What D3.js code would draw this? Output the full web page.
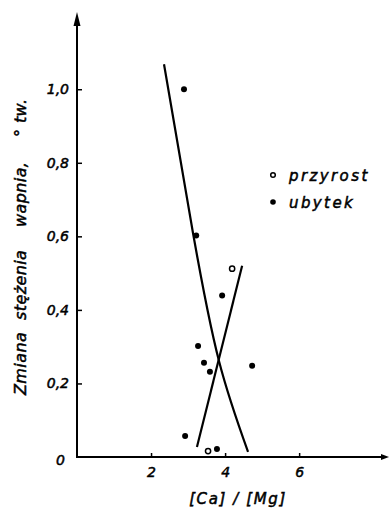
<!DOCTYPE html>
<html>
<head>
<meta charset="utf-8">
<script src="https://cdn.jsdelivr.net/npm/d3@7"></script>
<style>
  body { margin: 0; background: #fff; }
  svg { display: block; }
  text { font-family: "DejaVu Sans", sans-serif; font-style: italic; fill: #000; stroke: #000; stroke-width: 0.5px; }
</style>
</head>
<body>
<div id="chart"></div>
<script>
// data
var xGain = [4.19, 3.54];
var yGain = [0.512, 0.016];
var xLoss = [2.89, 3.22, 3.92, 3.27, 3.43, 3.59, 4.73, 2.92, 3.78];
var yLoss = [1.0, 0.602, 0.439, 0.302, 0.256, 0.232, 0.248, 0.057, 0.022];
// fitted curve (ubytek) and straight line (przyrost)
var xCurve = [2.35, 3.14, 3.84, 4.62];
var yCurve = [1.068, 0.605, 0.259, 0.014];
var xLine = [3.24, 4.46];
var yLine = [0.027, 0.52];
var xTicks = [2, 4, 6];
var yTicks = [0, 0.2, 0.4, 0.6, 0.8, 1.0];
var legendLabels = ["przyrost", "ubytek"];
var yLabelWords = ["Zmiana", "stężenia", "wapnia,", "° tw."];

var svgWidth = 390;
var svgHeight = 511;

var svg = d3.select("#chart")
  .append("svg")
  .attr("width", svgWidth)
  .attr("height", svgHeight);

// scales
var x = d3.scaleLinear().domain([0, 8.4]).range([77, 388]);
var y = d3.scaleLinear().domain([0, 1.21]).range([457, 12]);

// axes (ticks point inward)
var xAxis = d3.axisBottom(x)
  .tickValues(xTicks)
  .tickSize(-4)
  .tickPadding(10)
  .tickFormat(d3.format("d"));

var yAxis = d3.axisLeft(y)
  .tickValues(yTicks)
  .tickSize(-5)
  .tickPadding(8)
  .tickFormat(function(d) { return d === 0 ? "0" : d3.format(".1f")(d).replace(".", ","); });

var gx = svg.append("g")
  .attr("transform", "translate(0," + y(0) + ")")
  .call(xAxis);

var gy = svg.append("g")
  .attr("transform", "translate(" + x(0) + ",0)")
  .call(yAxis);

[gx, gy].forEach(function(g) {
  g.select(".domain").remove();
  g.selectAll(".tick line").attr("stroke", "#000").attr("stroke-width", 1.5);
  g.selectAll(".tick text").attr("font-size", "14px").attr("fill", "#000");
});
gy.selectAll(".tick").filter(function(d) { return d === 0; }).select("line").remove();
gy.selectAll(".tick").filter(function(d) { return d === 0; }).select("text")
  .attr("x", -12).attr("dy", "0.55em");

// axis lines with arrows
svg.append("line")
  .attr("x1", x(0)).attr("y1", y(0))
  .attr("x2", x(0)).attr("y2", y(1.21) + 8)
  .attr("stroke", "#000").attr("stroke-width", 2);
svg.append("path")
  .attr("d", "M" + x(0) + "," + y(1.21) + "l-3.5,14l7,0z")
  .attr("fill", "#000");
svg.append("line")
  .attr("x1", x(0) - 1).attr("y1", y(0))
  .attr("x2", x(8.4) - 4).attr("y2", y(0))
  .attr("stroke", "#000").attr("stroke-width", 2);
svg.append("path")
  .attr("d", "M" + (x(8.4) + 1) + "," + y(0) + "l-8,-3l0,6z")
  .attr("fill", "#000");

// lines
var curveData = xCurve.map(function(d, i) { return [d, yCurve[i]]; });
var lineData = xLine.map(function(d, i) { return [d, yLine[i]]; });

var lineGen = d3.line()
  .x(function(d) { return x(d[0]); })
  .y(function(d) { return y(d[1]); });

svg.append("path")
  .datum(curveData)
  .attr("d", lineGen.curve(d3.curveNatural))
  .attr("fill", "none")
  .attr("stroke", "#000")
  .attr("stroke-width", 2.2);

svg.append("path")
  .datum(lineData)
  .attr("d", lineGen.curve(d3.curveLinear))
  .attr("fill", "none")
  .attr("stroke", "#000")
  .attr("stroke-width", 2.2);

// points
svg.append("g").selectAll("circle")
  .data(xLoss)
  .enter()
  .append("circle")
  .attr("cx", function(d) { return x(d); })
  .attr("cy", function(d, i) { return y(yLoss[i]); })
  .attr("r", 3)
  .attr("fill", "#000");

svg.append("g").selectAll("circle")
  .data(xGain)
  .enter()
  .append("circle")
  .attr("cx", function(d) { return x(d); })
  .attr("cy", function(d, i) { return y(yGain[i]); })
  .attr("r", 2.6)
  .attr("fill", "#fff")
  .attr("stroke", "#000")
  .attr("stroke-width", 1.5);

// legend
var legend = svg.append("g").attr("transform", "translate(273,175)");
legend.append("circle").attr("cx", 0).attr("cy", 0).attr("r", 2.3)
  .attr("fill", "#fff").attr("stroke", "#000").attr("stroke-width", 1.5);
legend.append("circle").attr("cx", 0).attr("cy", 27).attr("r", 2.8).attr("fill", "#000");
legend.selectAll("text")
  .data(legendLabels)
  .enter()
  .append("text")
  .attr("x", 16)
  .attr("y", function(d, i) { return 6 + i * 27; })
  .attr("font-size", "15px")
  .attr("letter-spacing", "2.4px")
  .text(function(d) { return d; });

// x label
svg.append("text")
  .attr("x", 238)
  .attr("y", 504)
  .attr("text-anchor", "middle")
  .attr("font-size", "15px")
  .attr("letter-spacing", "1.6px")
  .text("[Ca] / [Mg]");

// y label, words spaced out like the original
var wordStart = [-395, -320, -227, -137];
svg.append("text")
  .attr("transform", "translate(26,0) rotate(-90)")
  .attr("font-size", "16px")
  .attr("letter-spacing", "0.4px")
  .selectAll("tspan")
  .data(yLabelWords)
  .enter()
  .append("tspan")
  .attr("x", function(d, i) { return wordStart[i]; })
  .text(function(d) { return d; });
</script>
</body>
</html>
